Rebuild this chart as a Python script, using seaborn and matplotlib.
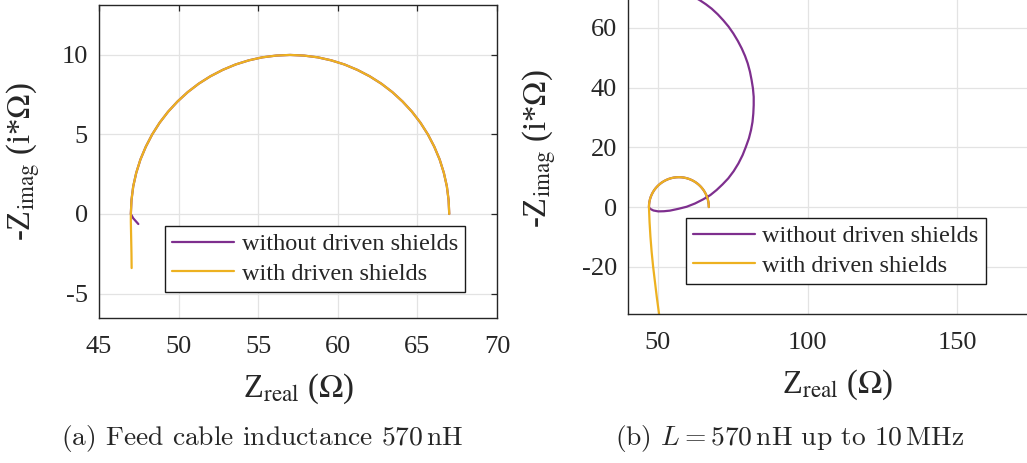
import matplotlib
matplotlib.use("Agg")
import matplotlib.pyplot as plt
import seaborn as sns

# ---- impedance locus data (Z_real, -Z_imag) in ohms ----
# common resonance arc, traced from 67 ohm round to 47 ohm
arc_real = [67.00, 66.96, 66.85, 66.66, 66.40, 66.06, 65.66, 65.19, 64.66, 64.07,
            63.43, 62.74, 62.00, 61.23, 60.42, 59.59, 58.74, 57.87, 57.00, 56.13,
            55.26, 54.41, 53.58, 52.77, 52.00, 51.26, 50.57, 49.93, 49.34, 48.81,
            48.34, 47.94, 47.60, 47.34, 47.15, 47.04, 47.00]
arc_imag = [0.00, 0.87, 1.74, 2.59, 3.42, 4.23, 5.00, 5.74, 6.43, 7.07,
            7.66, 8.19, 8.66, 9.06, 9.40, 9.66, 9.85, 9.96, 10.00, 9.96,
            9.85, 9.66, 9.40, 9.06, 8.66, 8.19, 7.66, 7.07, 6.43, 5.74,
            5.00, 4.23, 3.42, 2.59, 1.74, 0.87, 0.00]

# (a) low-frequency tails
a_without_real = [47.15, 47.47]
a_without_imag = [-0.27, -0.63]
a_with_real = [47.00, 47.02, 47.04, 47.05]
a_with_imag = [-0.5, -1.5, -2.5, -3.4]

# (b) up to 10 MHz
b_without_real = [47.15, 47.47, 48.5, 50.1, 52.0, 54.0, 56.8, 59.6, 62.4, 65.15,
                  67.5, 69.6, 71.6, 73.5, 75.3, 76.9, 78.3, 79.4, 80.4, 81.1,
                  81.6, 81.87, 82.0, 82.0, 81.75, 81.3, 80.75, 80.0, 79.1, 78.0,
                  76.7, 75.2, 73.6, 71.85, 70.0, 67.96, 66.0, 64.05, 62.0, 60.0]
b_without_imag = [-0.27, -0.63, -1.15, -1.45, -1.4, -1.2, -0.6, 0.1, 1.2, 2.6,
                  4.0, 5.7, 7.6, 9.6, 12.0, 14.6, 17.4, 20.2, 23.0, 25.75,
                  28.5, 31.3, 34.1, 36.9, 39.7, 42.5, 45.3, 48.1, 50.6, 53.1,
                  55.6, 58.1, 60.4, 62.5, 64.5, 66.4, 67.9, 69.2, 70.4, 71.5]
b_with_real = [47.2, 47.5, 47.9, 48.4, 49.0, 49.6, 50.4]
b_with_imag = [-5.0, -10.0, -15.0, -20.0, -25.0, -30.0, -36.0]

labels = ["without driven shields", "with driven shields"]
colors = ["#7E2F8E", "#EDB120"]

sns.set_style("whitegrid")
plt.rcParams["font.family"] = ["Liberation Serif", "DejaVu Serif"]
plt.rcParams["axes.unicode_minus"] = False

fig = plt.figure(figsize=(10.27, 4.63), dpi=100)
ax_a = fig.add_axes([99 / 1027, (463 - 318) / 463, 398 / 1027, 313 / 463])
ax_b = fig.add_axes([628 / 1027, (463 - 314) / 463, 419 / 1027, 331 / 463])

panels = [
    (ax_a, (a_without_real, a_without_imag), (a_with_real, a_with_imag)),
    (ax_b, (b_without_real, b_without_imag), (b_with_real, b_with_imag)),
]

for ax, without, with_ in panels:
    sns.lineplot(x=arc_real + without[0], y=arc_imag + without[1], sort=False,
                 estimator=None, color=colors[0], linewidth=1.6, ax=ax, label=labels[0])
    sns.lineplot(x=arc_real + with_[0], y=arc_imag + with_[1], sort=False,
                 estimator=None, color=colors[1], linewidth=1.6, ax=ax, label=labels[1])

ax_a.set_xlim(45, 70)
ax_a.set_ylim(-6.54, 13.14)
ax_a.set_xticks([45, 50, 55, 60, 65, 70])
ax_a.set_yticks([-5, 0, 5, 10])

ax_b.set_xlim(40, 180)
ax_b.set_ylim(-35.8, 75)
ax_b.set_xticks([50, 100, 150])
ax_b.set_yticks([-20, 0, 20, 40, 60])

settings = [
    (ax_a, (0.166, 0.294), 10, 14),
    (ax_b, (0.138, 0.290), 10, 17),
]
for ax, anchor, xpad, ypad in settings:
    ax.grid(True, color="#e3e3e3", linewidth=0.9)
    for s in ax.spines.values():
        s.set_color("#262626")
        s.set_linewidth(1.0)
    ax.tick_params(direction="in", length=4, width=0.9, color="#262626",
                   labelsize=19, labelcolor="#262626", top=True, right=True)
    ax.tick_params(axis="x", pad=13)
    ax.tick_params(axis="y", pad=8)
    ax.set_xlabel(r"Z$_{\mathrm{real}}$ ($\Omega$)", fontsize=23.5, color="#262626",
                  math_fontfamily="stix", labelpad=xpad)
    ax.set_ylabel(r"-Z$_{\mathrm{imag}}$ (i*$\Omega$)", fontsize=23.5, color="#262626",
                  math_fontfamily="stix", labelpad=ypad)
    leg = ax.legend(loc="upper left", bbox_to_anchor=anchor, borderaxespad=0,
                    fontsize=17.5, frameon=True, fancybox=False, framealpha=1,
                    edgecolor="#1a1a1a", handlelength=2.55, handletextpad=0.3,
                    borderpad=0.3, labelspacing=0.3)
    leg.get_frame().set_linewidth(1.0)

fig.text(262 / 1027, 1 - 439 / 463, r"(a) Feed cable inductance $570\,\mathrm{nH}$",
         ha="center", va="center", fontsize=19.8, family="cmr10", math_fontfamily="cm")
fig.text(790 / 1027, 1 - 439 / 463,
         r"(b) $L = 570\,\mathrm{nH}$ up to $10\,\mathrm{MHz}$",
         ha="center", va="center", fontsize=19.8, family="cmr10", math_fontfamily="cm")

fig.savefig("out.png", dpi=100)
